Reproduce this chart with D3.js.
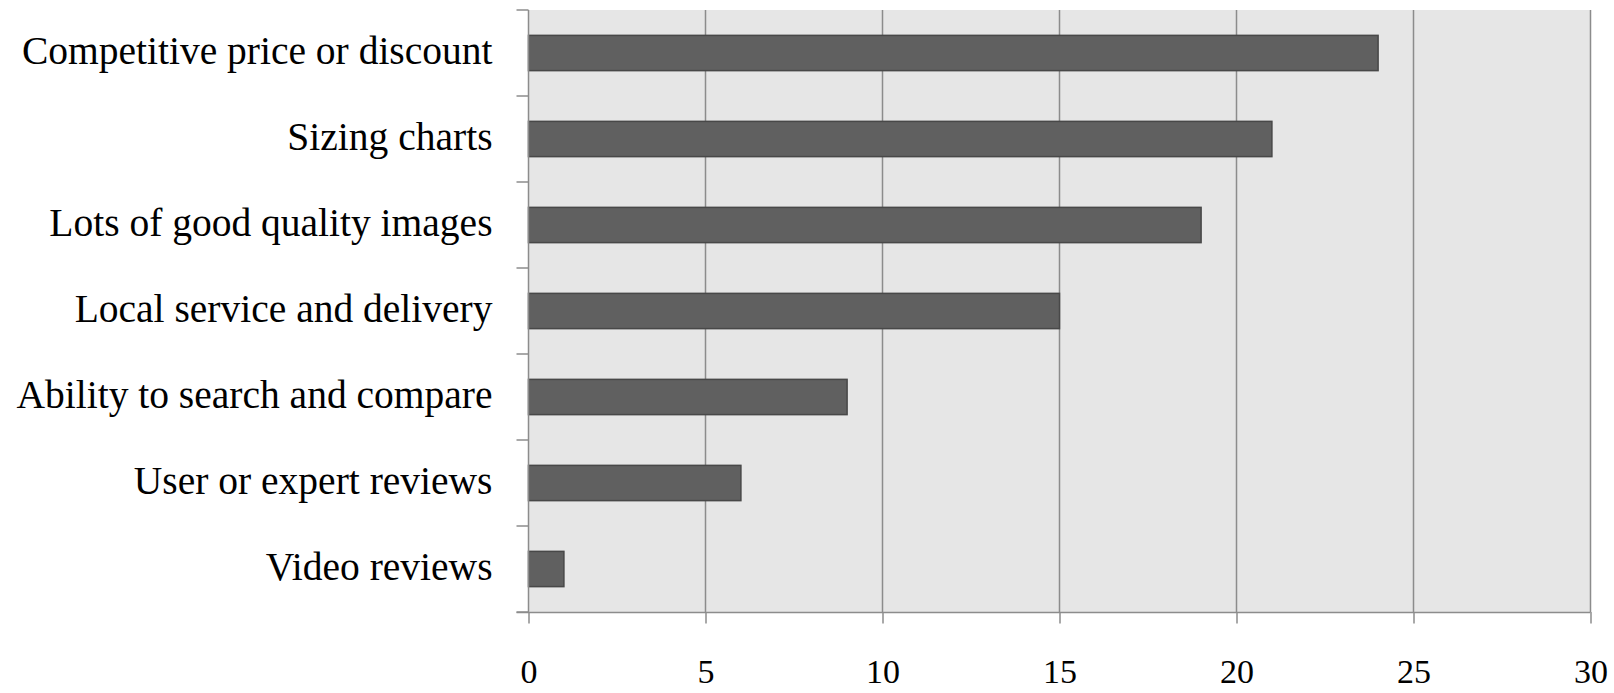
<!DOCTYPE html>
<html>
<head>
<meta charset="utf-8">
<script src="https://cdn.jsdelivr.net/npm/d3@7"></script>
<style>
  html, body { margin: 0; padding: 0; background: #ffffff; }
  svg { display: block; }
  text { font-family: "Liberation Serif", "DejaVu Serif", serif; fill: #000; }
</style>
</head>
<body>
<svg id="chart" width="1614" height="693"></svg>
<script>
const categories = [
  "Competitive price or discount",
  "Sizing charts",
  "Lots of good quality images",
  "Local service and delivery",
  "Ability to search and compare",
  "User or expert reviews",
  "Video reviews"
];
const values = [24, 21, 19, 15, 9, 6, 1];
const tickValues = [0, 5, 10, 15, 20, 25, 30];

const W = 1614, H = 693;
const margin = { left: 528.5, top: 10, right: 23.5, bottom: 81 };
const iw = W - margin.left - margin.right;
const ih = H - margin.top - margin.bottom;

const svg = d3.select("#chart");
const g = svg.append("g").attr("transform", `translate(${margin.left},${margin.top})`);

const x = d3.scaleLinear().domain([0, 30]).range([0, iw]);
const y = d3.scaleBand().domain(categories).range([0, ih]).paddingInner(0.59).paddingOuter(0.295);

// background
g.append("rect").attr("x", 0).attr("y", 0).attr("width", iw).attr("height", ih).attr("fill", "#e6e6e6");

// gridlines
g.append("g").selectAll("line").data(tickValues.filter(d => d > 0)).join("line")
  .attr("x1", d => x(d)).attr("x2", d => x(d))
  .attr("y1", 0).attr("y2", ih)
  .attr("stroke", "#8c8c8c").attr("stroke-width", 1.5);

// bars
g.append("g").selectAll("rect").data(categories).join("rect")
  .attr("x", x(0))
  .attr("y", d => y(d))
  .attr("width", (d, i) => x(values[i]) - x(0))
  .attr("height", y.bandwidth())
  .attr("fill", "#606060")
  .attr("stroke", "#484848").attr("stroke-width", 1.5);

// bottom axis
const xAxis = d3.axisBottom(x).tickValues(tickValues).tickSize(11.5).tickPadding(0).tickFormat(d3.format("d"));
const gx = g.append("g").attr("transform", `translate(0,${ih})`).call(xAxis);
gx.select(".domain").attr("stroke", "#8c8c8c").attr("stroke-width", 1.5).attr("d", `M${-12},0.5H${iw}`);
gx.selectAll(".tick line").attr("stroke", "#8c8c8c").attr("stroke-width", 1.5);
gx.selectAll(".tick text")
  .attr("y", 71).attr("dy", 0)
  .style("font-family", "'Liberation Serif', serif")
  .style("font-variant-numeric", "oldstyle-nums")
  .style("font-size", "34px").attr("fill", "#000");

// left axis: ticks at band boundaries
const bounds = d3.range(categories.length + 1).map(i => i * ih / categories.length);
g.append("line").attr("x1", 0).attr("x2", 0).attr("y1", 0).attr("y2", ih)
  .attr("stroke", "#8c8c8c").attr("stroke-width", 1.5);
g.append("g").selectAll("line").data(bounds).join("line")
  .attr("x1", -12).attr("x2", 0)
  .attr("y1", d => d).attr("y2", d => d)
  .attr("stroke", "#8c8c8c").attr("stroke-width", 1.5);

// category labels
g.append("g").selectAll("text").data(categories).join("text")
  .attr("x", -36)
  .attr("y", d => y(d) + y.bandwidth() / 2 + 11)
  .attr("text-anchor", "end")
  .style("font-size", "39.5px")
  .text(d => d);
</script>
</body>
</html>
